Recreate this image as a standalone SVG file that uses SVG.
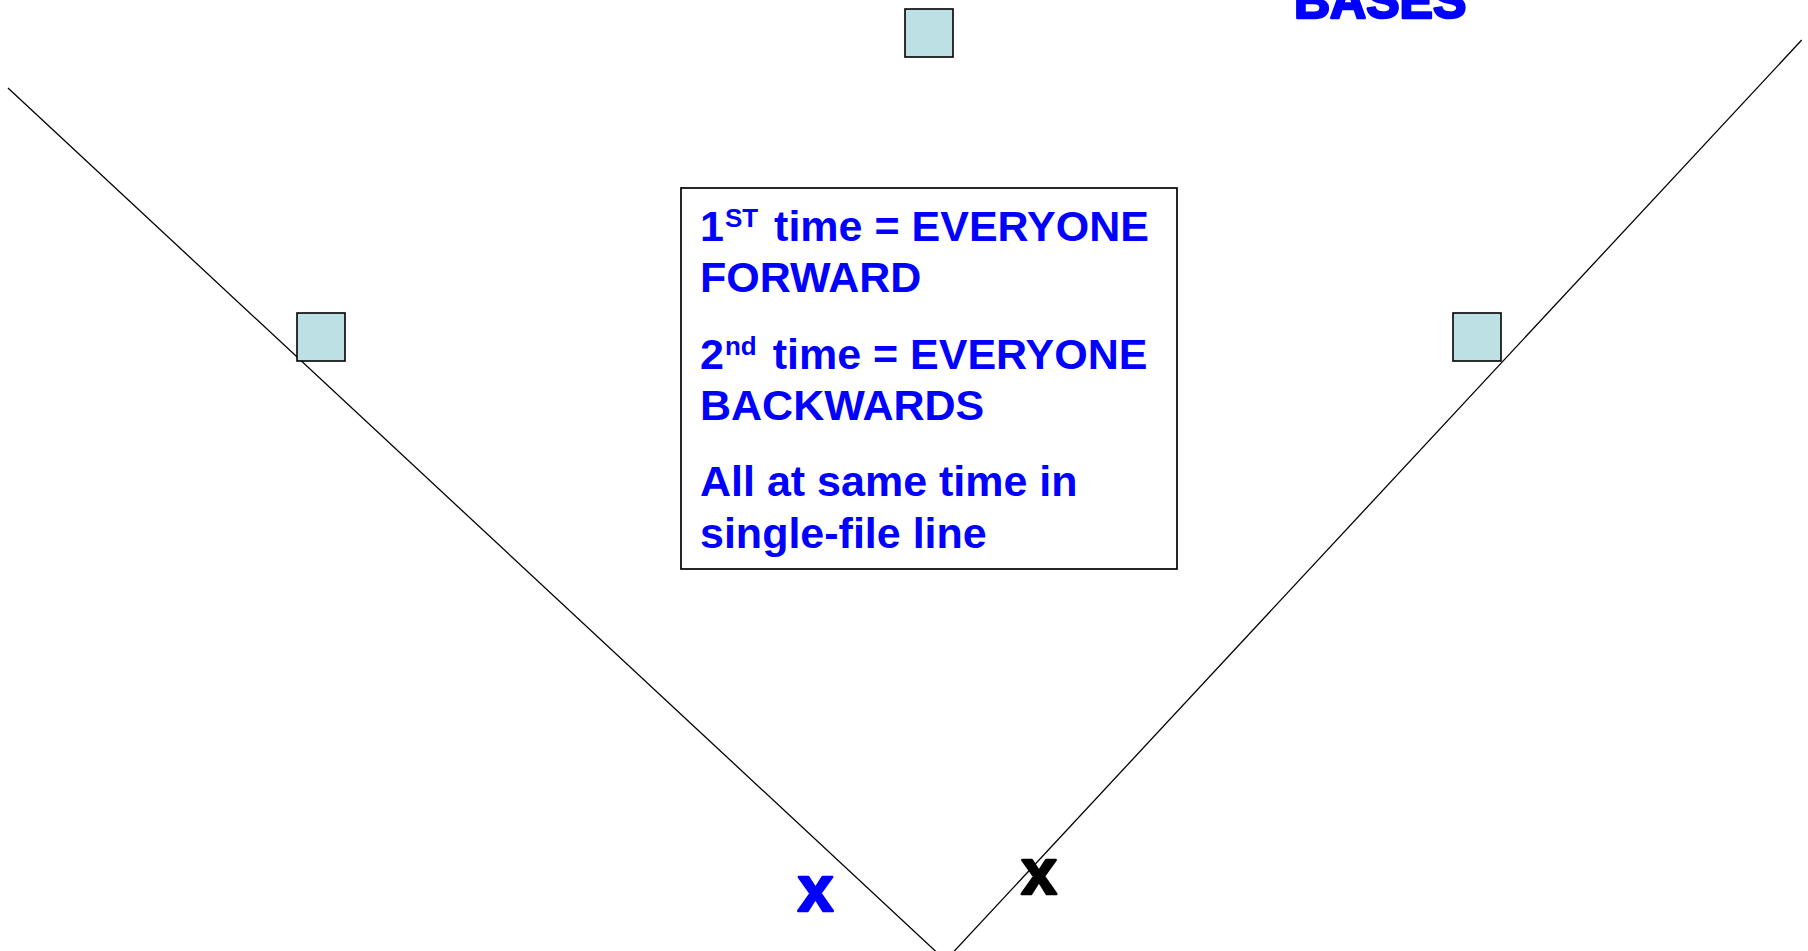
<svg xmlns="http://www.w3.org/2000/svg" width="1808" height="951" viewBox="0 0 1808 951">
<style>
.base{fill:#BDE0E4;stroke:#000;stroke-width:1.6}
.ln{stroke:#000;stroke-width:1.3;fill:none}
.t{font-family:"Liberation Sans",Arial,sans-serif;font-weight:bold;fill:#0000FF}
.box{fill:#fff;stroke:#000;stroke-width:1.7}
.heavy{stroke-width:2.5;stroke-linejoin:round}
</style>
<rect width="1808" height="951" fill="#fff"/>
<g id="connectors">
<line class="ln" x1="8" y1="88" x2="945" y2="960"/>
<line class="ln" x1="1801.7" y1="40" x2="946" y2="960"/>
</g>
<g id="base-second"><rect class="base" x="905" y="9" width="48" height="48"/></g>
<g id="base-third"><rect class="base" x="297" y="313" width="48" height="48"/></g>
<g id="base-first"><rect class="base" x="1453" y="313" width="48" height="48"/></g>
<g id="title"><text class="t heavy" x="1294" y="18" font-size="50" style="stroke:#0000FF">BASES</text></g>
<g id="instructions">
<rect class="box" x="681" y="188" width="496" height="381"/>
<text class="t" font-size="43">
<tspan x="700" y="241">1<tspan font-size="26" dy="-14" dx="1">ST</tspan><tspan dy="14" dx="4"> time = EVERYONE</tspan></tspan>
<tspan x="700" y="292">FORWARD</tspan>
<tspan x="700" y="369">2<tspan font-size="26" dy="-14" dx="1">nd</tspan><tspan dy="14" dx="4"> time = EVERYONE</tspan></tspan>
<tspan x="700" y="420">BACKWARDS</tspan>
<tspan x="700" y="496">All at same time in</tspan>
<tspan x="700" y="548">single-file line</tspan>
</text>
</g>
<g id="player-blue"><text class="t heavy" x="815.5" y="910.5" font-size="64" text-anchor="middle" style="stroke:#0000FF">x</text></g>
<g id="player-black"><text class="t heavy" x="1039" y="894" font-size="64" text-anchor="middle" style="fill:#000;stroke:#000">x</text></g>
</svg>
